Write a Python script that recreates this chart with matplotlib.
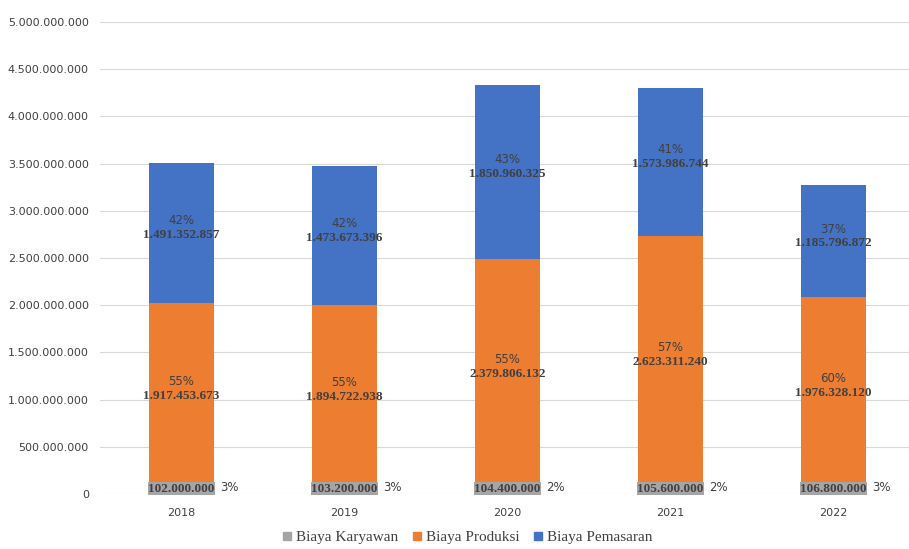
import matplotlib
matplotlib.use("Agg")
from matplotlib import pyplot as plt
from matplotlib.lines import Line2D

years = ["2018", "2019", "2020", "2021", "2022"]
karyawan = [102000000, 103200000, 104400000, 105600000, 106800000]
produksi = [1917453673, 1894722938, 2379806132, 2623311240, 1976328120]
pemasaran = [1491352857, 1473673396, 1850960325, 1573986744, 1185796872]
pct_karyawan = ["3%", "3%", "2%", "2%", "3%"]
pct_produksi = ["55%", "55%", "55%", "57%", "60%"]
pct_pemasaran = ["42%", "42%", "43%", "41%", "37%"]

c_grey, c_orange, c_blue = "#A5A5A5", "#ED7D31", "#4472C4"

def fmt(v):
    return f"{v:,.0f}".replace(",", ".")

fig = plt.figure(figsize=(9.09, 5.49), dpi=100)
ax = fig.add_axes([100 / 909, 55 / 549, 815 / 909, 472 / 549])

x = range(len(years))
w = 0.4
ax.bar(x, karyawan, w, color=c_grey)
ax.bar(x, produksi, w, bottom=karyawan, color=c_orange)
bot2 = [a + b for a, b in zip(karyawan, produksi)]
ax.bar(x, pemasaran, w, bottom=bot2, color=c_blue)

ax.set_ylim(0, 5000000000)
ax.set_xlim(-0.5, 4.5)
ax.set_yticks(range(0, 5000000001, 500000000))
ax.set_yticklabels([fmt(v) for v in range(0, 5000000001, 500000000)], fontsize=8, color="#404040")
ax.set_xticks(list(x))
ax.set_xticklabels(years, fontsize=8, color="#404040")
ax.tick_params(axis="y", length=0, pad=8)
ax.tick_params(axis="x", length=0, pad=10)
ax.grid(axis="y", color="#D9D9D9", linewidth=0.8)
ax.set_axisbelow(True)
for s in ax.spines.values():
    s.set_visible(False)

lbl = dict(family="Liberation Serif", fontweight="bold", fontsize=9.5, color="#404040", ha="center", va="center")
pct = dict(fontsize=8.5, color="#404040", ha="center", va="center")
for i in x:
    ax.text(i, 55000000, fmt(karyawan[i]),
            bbox=dict(facecolor=c_grey, edgecolor="none", pad=0.3), **lbl)
    ax.text(i + 0.24, 65000000, pct_karyawan[i], fontsize=8.5, color="#404040", ha="left", va="center")
    mid = karyawan[i] + produksi[i] / 2
    ax.text(i, mid - 20000000, fmt(produksi[i]), **lbl)
    ax.text(i, mid + 130000000, pct_produksi[i], **pct)
    mid = bot2[i] + pemasaran[i] / 2
    ax.text(i, mid - 20000000, fmt(pemasaran[i]), **lbl)
    ax.text(i, mid + 130000000, pct_pemasaran[i], **pct)

handles = [Line2D([], [], marker="s", linestyle="none", color=c, markersize=6)
           for c in (c_grey, c_orange, c_blue)]
fig.legend(handles, ["Biaya Karyawan", "Biaya Produksi", "Biaya Pemasaran"],
           loc="center", bbox_to_anchor=(465 / 909, 1 - 537 / 549), ncol=3, frameon=False,
           prop=dict(family="Liberation Serif", size=11), handletextpad=0.0, columnspacing=0.6,
           handlelength=1.2, labelcolor="#404040")

fig.savefig("out.png", dpi=100)
